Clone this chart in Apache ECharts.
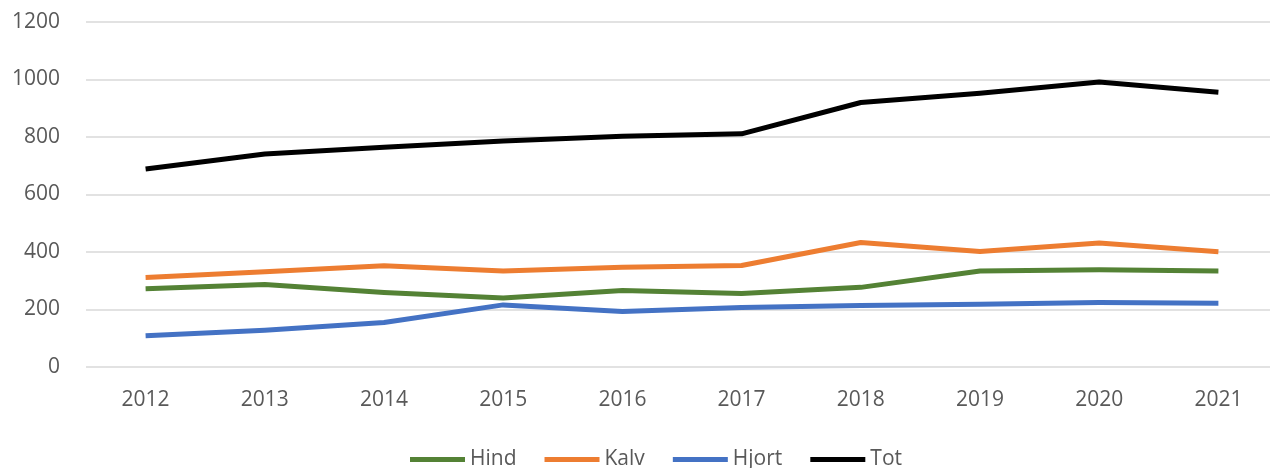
<!DOCTYPE html>
<html>
<head>
<meta charset="utf-8">
<script src="https://cdn.jsdelivr.net/npm/echarts@6/dist/echarts.min.js"></script>
<style>
  html, body { margin: 0; padding: 0; background: #fff; }
  #chart { width: 1270px; height: 468px; }
</style>
</head>
<body>
<div id="chart"></div>
<script>
// years on the x axis
const years = ["2012", "2013", "2014", "2015", "2016", "2017", "2018", "2019", "2020", "2021"];

// values
const hind = [272, 287, 259, 240, 266, 256, 277, 334, 338, 334];
const kalv = [311, 331, 352, 334, 347, 353, 433, 402, 431, 401];
const hjort = [109, 128, 155, 216, 193, 207, 214, 218, 224, 222];
const tot = [689, 741, 764, 786, 803, 811, 920, 952, 991, 956];

const seriesNames = ["Hind", "Kalv", "Hjort", "Tot"];
const seriesColors = ["#548235", "#ED7D31", "#4472C4", "#000000"];

const chart = echarts.init(document.getElementById("chart"));

const font = "'Open Sans', 'Noto Sans', sans-serif";

const makeLine = (name, data, color) => ({
  name,
  type: "line",
  data,
  symbol: "none",
  smooth: false,
  lineStyle: { color, width: 5, cap: "butt", join: "round" },
  itemStyle: { color },
});

chart.setOption({
  backgroundColor: "#ffffff",
  animation: false,
  grid: {
    left: 86,
    top: 22,
    width: 1192,
    height: 345,
    outerBoundsMode: "none",
  },
  xAxis: {
    type: "category",
    data: years,
    boundaryGap: true,
    axisLine: { show: false },
    axisTick: { show: false },
    axisLabel: {
      color: "#595959",
      fontSize: 21,
      fontFamily: font,
      margin: 23,
    },
  },
  yAxis: {
    type: "value",
    min: 0,
    max: 1200,
    interval: 200,
    axisLine: { show: false },
    axisTick: { show: false },
    splitLine: { lineStyle: { color: "#d9d9d9", width: 1.5 } },
    axisLabel: {
      color: "#595959",
      fontSize: 21,
      fontFamily: font,
      margin: 26,
      formatter: (v) => String(v),
    },
  },
  legend: {
    left: 405,
    top: 444,
    icon: "rect",
    itemWidth: 55,
    itemHeight: 5,
    itemGap: 28,
    textStyle: { color: "#595959", fontSize: 21, fontFamily: font },
    data: seriesNames,
  },
  series: [
    makeLine(seriesNames[0], hind, seriesColors[0]),
    makeLine(seriesNames[1], kalv, seriesColors[1]),
    makeLine(seriesNames[2], hjort, seriesColors[2]),
    makeLine(seriesNames[3], tot, seriesColors[3]),
  ],
});
</script>
</body>
</html>
